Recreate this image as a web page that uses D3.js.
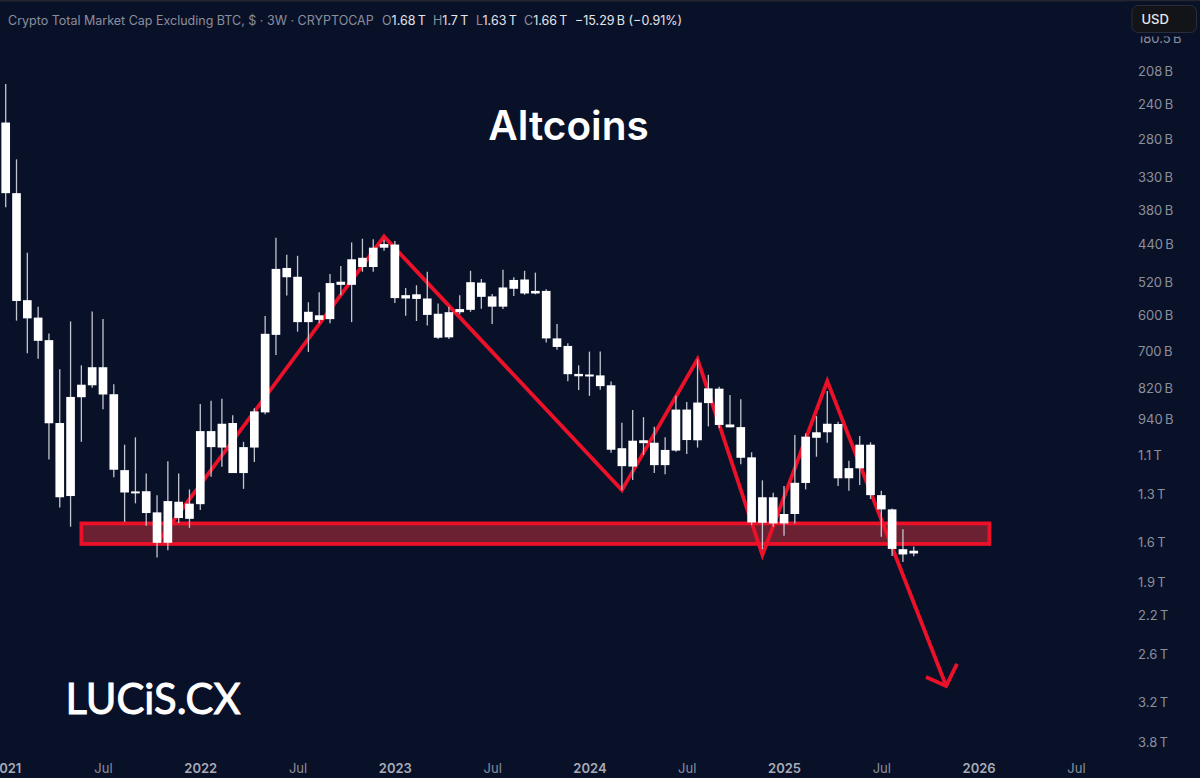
<!DOCTYPE html>
<html lang="en">
<head>
<meta charset="UTF-8"/>
<title>Altcoins</title>
<script src="https://d3js.org/d3.v7.min.js"></script>
<style>
  html, body { margin: 0; padding: 0; background: #091129; }
  svg { display: block; }
  .price text { fill: #8b8f9c; font: 13px Inter, sans-serif; }
  .time text { fill: #8b8f9c; font: 13px Inter, sans-serif; }
  .time text.year { fill: #a8abb6; font-weight: 600; }
</style>
</head>
<body>
<svg id="chart" width="1200" height="778"></svg>
<script>
// 3W candles, $ billions. Index 0 is the first candle of 2021
const candleOpen = [
  260,353,561,605,667,955,1310,854,811,750,
  843,1171,1290,1283,1406,1604,1343,1446,1357,989,
  1062,955,1186,1062,912,652,488,507,617,599,
  609,518,525,467,486,447,441,557,547,557,
  595,659,591,585,520,552,577,534,513,545,
  539,662,684,772,777,777,811,1065,1153,1029,
  1040,1146,1076,901,1029,876,823,961,972,1108,
  1471,1317,1475,1416,1238,1018,994,959,1213,1162,
  1049,1305,1388,1649,1680]
const candleClose = [
  353,563,607,669,956,1317,853,809,750,844,
  1169,1290,1284,1410,1604,1339,1441,1354,989,1060,
  958,1186,1060,908,649,490,508,617,590,611,
  521,525,470,486,447,440,556,549,558,598,
  660,591,583,519,553,577,531,514,545,539,
  662,687,773,780,774,814,1072,1151,1031,1042,
  1146,1073,901,1028,874,822,963,973,1110,1469,
  1317,1475,1416,1237,1013,994,958,1213,1161,1049,
  1305,1388,1647,1687,1660]
const candleLow = [
  220,305,457,577,648,757,615,744,589,609,
  807,1049,1016,1188,1305,1127,1188,1273,879,867,
  860,923,1036,896,601,428,461,463,566,542,
  501,484,437,430,431,432,434,532,526,496,
  569,577,549,494,512,546,492,508,494,498,
  535,622,676,744,701,701,798,954,903,931,
  971,1016,849,872,725,775,816,846,862,1084,
  1224,1292,1255,1006,999,927,831,950,1125,1010,
  1038,1281,1382,1513,1630]
const candleHigh = [
  375,613,706,723,1118,1376,1496,1036,820,900,
  1208,1465,1352,1490,1709,1656,1472,1503,1392,1205,
  1154,1186,1270,1130,919,711,550,643,702,620,
  620,549,617,496,496,453,568,600,614,626,
  664,664,596,590,582,622,583,551,548,547,
  674,695,797,828,849,827,1086,1277,1222,1097,
  1186,1192,1081,1092,1062,969,977,973,1141,1486,
  1649,1496,1556,1475,1273,1105,1040,1255,1281,1249,
  1327,1562,1698,1744,1700]

const priceTicks = [180.5,208,240,280,330,380,440,520,600,700,820,940,1100,1300,1600,1900,2200,2600,3200,3800]
const timeTicks = [0,9,18,27,36,45,54,63,72,81,90,99]
const timeLabels = ['2021','Jul','2022','Jul','2023','Jul','2024','Jul','2025','Jul','2026','Jul']

// drawn annotations, same units as the candles
const zigzagIndex = [14,35,57,64,70,76,87]
const zigzagValue = [1605,426,1277,724,1692,796,2981]
const arrowIndex = [85.13,87,88]
const arrowValue = [2867,2981,2710]
const zoneIndex = [7,91]
const zoneValue = [1475,1612]

const headerLabel = 'Crypto Total Market Cap Excluding BTC, $ · 3W · CRYPTOCAP'
const headerParts = [['O','1.68\u2009T',382],['H','1.7\u2009T',433],['L','1.63\u2009T',476],['C','1.66\u2009T',524]]
const headerChange = '−15.29\u2009B (−0.91%)'

const red = '#ec1029'
const redWidth = 3.8
const svg = d3.select('#chart')

const x = d3.scaleLinear().domain([0, 99]).range([5.7, 1075.9])
const y = d3.scaleLog().domain([208, 3800]).range([71, 742])
const bodyWidth = x(0.8) - x(0)

// top edge of the window
svg.append('rect').attr('width', 1200).attr('height', 1.5).attr('fill', '#23262f')

// zone first, candles sit on top of it
svg.append('rect')
  .attr('x', x(zoneIndex[0]))
  .attr('y', y(zoneValue[0]))
  .attr('width', x(zoneIndex[1]) - x(zoneIndex[0]))
  .attr('height', y(zoneValue[1]) - y(zoneValue[0]))
  .attr('fill', '#6b2132')
  .attr('stroke', red)
  .attr('stroke-width', redWidth)

const line = d3.line().x((d) => x(d[0])).y((d) => y(d[1]))

svg.append('path')
  .attr('d', line(d3.zip(zigzagIndex, zigzagValue)))
  .attr('fill', 'none')
  .attr('stroke', red)
  .attr('stroke-width', redWidth)

svg.append('path')
  .attr('d', line(d3.zip(arrowIndex, arrowValue)))
  .attr('fill', 'none')
  .attr('stroke', red)
  .attr('stroke-width', redWidth)

// candles
const candles = svg.selectAll('.candle')
  .data(candleOpen.map((o, i) => ({ i, o, c: candleClose[i], l: candleLow[i], h: candleHigh[i] })))
  .enter()
  .append('g')
  .attr('class', 'candle')

candles.append('line')
  .attr('x1', (d) => x(d.i))
  .attr('x2', (d) => x(d.i))
  .attr('y1', (d) => y(d.l))
  .attr('y2', (d) => y(d.h))
  .attr('stroke', '#c4c6cf')
  .attr('stroke-width', 1.3)

candles.append('rect')
  .attr('x', (d) => x(d.i) - bodyWidth / 2)
  .attr('y', (d) => Math.min(y(d.o), y(d.c)))
  .attr('width', bodyWidth)
  .attr('height', (d) => Math.max(Math.abs(y(d.o) - y(d.c)), 2))
  .attr('fill', '#fff')

// axes
const priceLabel = (v) => (v >= 1000 ? v / 1000 + '\u2009T' : v + '\u2009B')

const priceAxis = svg.append('g')
  .attr('class', 'price')
  .attr('transform', 'translate(1138,0)')
  .call(d3.axisRight(y).tickValues(priceTicks).tickFormat(priceLabel).tickSize(0).tickPadding(0))
priceAxis.select('.domain').remove()

const timeAxis = svg.append('g')
  .attr('class', 'time')
  .attr('transform', 'translate(0,758.5)')
  .call(d3.axisBottom(x).tickValues(timeTicks).tickFormat((d, i) => timeLabels[i]).tickSize(0).tickPadding(5))
timeAxis.select('.domain').remove()
timeAxis.selectAll('text').classed('year', (d, i) => timeLabels[i] !== 'Jul')

// header line
const header = svg.append('g').style('font', '12.5px Inter, sans-serif')
header.append('text').attr('x', 8).attr('y', 24.5).attr('fill', '#8b8f9c').text(headerLabel)
headerParts.forEach((p) => {
  const t = header.append('text').attr('x', p[2]).attr('y', 24.5)
  t.append('tspan').attr('fill', '#8b8f9c').text(p[0])
  t.append('tspan').attr('fill', '#e4e5ea').text(p[1])
})
header.append('text').attr('x', 575).attr('y', 24.5).attr('fill', '#e4e5ea').text(headerChange)

// strip behind the currency button hides the top of the first price label
svg.append('rect')
  .attr('x', 1125).attr('y', 1.5)
  .attr('width', 75).attr('height', 35)
  .attr('fill', '#091129')
svg.append('rect')
  .attr('x', 1132).attr('y', 5.5)
  .attr('width', 64.5).attr('height', 27)
  .attr('rx', 6)
  .attr('fill', '#131417')
  .attr('stroke', '#2a2e3a')
svg.append('text')
  .attr('x', 1141.5).attr('y', 24)
  .attr('fill', '#e8e9ed')
  .style('font', '500 13px Inter, sans-serif')
  .text('USD')

svg.append('text')
  .attr('x', 568.5).attr('y', 140)
  .attr('text-anchor', 'middle')
  .attr('fill', '#fff')
  .style('font', '600 40.5px Inter, sans-serif')
  .text('Altcoins')

svg.append('text')
  .attr('x', 65.5).attr('y', 713.5)
  .attr('fill', '#fff')
  .attr('stroke', '#fff')
  .attr('stroke-width', 1)
  .attr('textLength', 175)
  .attr('lengthAdjust', 'spacingAndGlyphs')
  .style('font', '400 43px Lato, sans-serif')
  .text('LUCiS.CX')
</script>
</body>
</html>
